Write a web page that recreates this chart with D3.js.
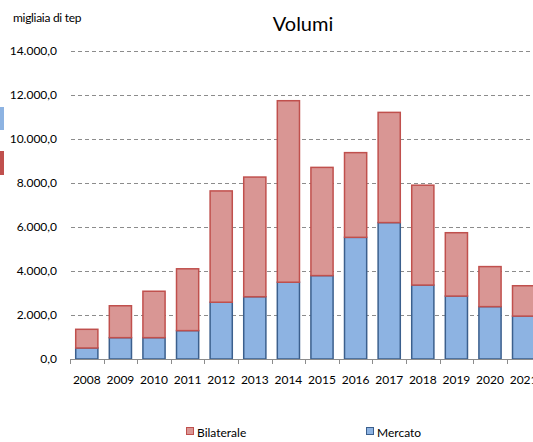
<!DOCTYPE html>
<html>
<head>
<meta charset="utf-8">
<script src="https://cdn.jsdelivr.net/npm/d3@7"></script>
<style>
  html, body { margin: 0; padding: 0; background: #fff; overflow: hidden; }
  svg { display: block; font-family: Lato, "Open Sans", sans-serif; }
</style>
</head>
<body>
<div id="chart"></div>
<script>
  // valori (migliaia di tep)
  let years = ['2008', '2009', '2010', '2011', '2012', '2013', '2014', '2015', '2016', '2017', '2018', '2019', '2020', '2021'];
  let mercato = [500, 970, 970, 1290, 2580, 2830, 3490, 3790, 5530, 6200, 3360, 2860, 2380, 1950];
  let bilaterale = [850, 1450, 2110, 2810, 5060, 5440, 8250, 4920, 3850, 5010, 4540, 2880, 1820, 1380];
  let yTicks = [0, 2000, 4000, 6000, 8000, 10000, 12000, 14000];

  let width = 533;
  let height = 442;

  let svg = d3.select('#chart')
  .append('svg')
  .attr('width', width)
  .attr('height', height);

  let x = d3.scaleBand()
  .domain(years)
  .range([70, 70 + 33.6 * years.length])
  .paddingInner(0.34)
  .paddingOuter(0.17);

  let y = d3.scaleLinear().domain([0, 14000]).range([359, 51]);

  let it = d3.formatLocale({decimal: ',', thousands: '.', grouping: [3], currency: ['', '€']});
  let fmt = it.format(',.1f');

  // griglia tratteggiata
  svg.append('g')
  .selectAll('line')
  .data(yTicks.filter((d) => d > 0))
  .enter().append('line')
  .attr('x1', 71)
  .attr('x2', width)
  .attr('y1', (d) => Math.round(y(d)) + 0.5)
  .attr('y2', (d) => Math.round(y(d)) + 0.5)
  .attr('stroke', '#8c8c8c')
  .attr('stroke-width', 1)
  .attr('stroke-dasharray', '4,3');

  // etichette asse y
  svg.append('g')
  .selectAll('text')
  .data(yTicks)
  .enter().append('text')
  .attr('x', 57)
  .attr('y', (d) => y(d) + 4)
  .attr('text-anchor', 'end')
  .attr('font-size', 12)
  .attr('fill', '#000')
  .text((d) => fmt(d));

  // barre impilate
  let stackData = years.map((yr, i) => ({year: yr, mercato: mercato[i], bilaterale: bilaterale[i]}));
  let series = d3.stack().keys(['mercato', 'bilaterale'])(stackData);
  let fills = {mercato: '#8db3e2', bilaterale: '#d99694'};
  let strokes = {mercato: '#3b5f8d', bilaterale: '#c0504d'};

  svg.append('g')
  .selectAll('g')
  .data(series)
  .enter().append('g')
  .attr('fill', (s) => fills[s.key])
  .attr('stroke', (s) => strokes[s.key])
  .attr('stroke-width', 1.5)
  .selectAll('rect')
  .data((s) => s)
  .enter().append('rect')
  .attr('x', (d) => x(d.data.year))
  .attr('width', x.bandwidth())
  .attr('y', (d) => y(d[1]))
  .attr('height', (d) => y(d[0]) - y(d[1]));

  // asse x
  let axis = svg.append('g');
  axis.append('line')
  .attr('x1', 70)
  .attr('x2', width)
  .attr('y1', 359.5)
  .attr('y2', 359.5)
  .attr('stroke', '#8c8c8c');

  axis.selectAll('.tick')
  .data(d3.range(years.length + 1))
  .enter().append('line')
  .attr('class', 'tick')
  .attr('x1', (i) => Math.round(x.range()[0] + i * x.step()) + 0.5)
  .attr('x2', (i) => Math.round(x.range()[0] + i * x.step()) + 0.5)
  .attr('y1', 359)
  .attr('y2', 364)
  .attr('stroke', '#8c8c8c');

  axis.selectAll('text')
  .data(years)
  .enter().append('text')
  .attr('x', (d) => x(d) + x.bandwidth() / 2)
  .attr('y', 384)
  .attr('text-anchor', 'middle')
  .attr('font-size', 12)
  .text((d) => d);

  // titoli
  svg.append('text')
  .attr('x', 303)
  .attr('y', 31)
  .attr('text-anchor', 'middle')
  .attr('font-size', 20)
  .text('Volumi');

  svg.append('text')
  .attr('x', 13)
  .attr('y', 22)
  .attr('font-size', 12)
  .attr('letter-spacing', -0.3)
  .text('migliaia di tep');

  // legenda
  let legend = [
    {name: 'Bilaterale', key: 'bilaterale', x: 186},
    {name: 'Mercato', key: 'mercato', x: 366}
  ];
  let lg = svg.append('g')
  .selectAll('g')
  .data(legend)
  .enter().append('g')
  .attr('transform', (d) => `translate(${d.x}, 427)`);

  lg.append('rect')
  .attr('x', 0.5)
  .attr('y', 0.5)
  .attr('width', 7)
  .attr('height', 7)
  .attr('fill', (d) => fills[d.key])
  .attr('stroke', (d) => strokes[d.key]);

  lg.append('text')
  .attr('x', 11)
  .attr('y', 10)
  .attr('font-size', 12)
  .text((d) => d.name);

  // marcatori tagliati sul bordo sinistro
  svg.append('rect').attr('x', 0).attr('y', 107).attr('width', 4).attr('height', 23).attr('fill', '#8db3e2');
  svg.append('rect').attr('x', 0).attr('y', 151).attr('width', 4).attr('height', 24).attr('fill', '#c0504d');
</script>
</body>
</html>
